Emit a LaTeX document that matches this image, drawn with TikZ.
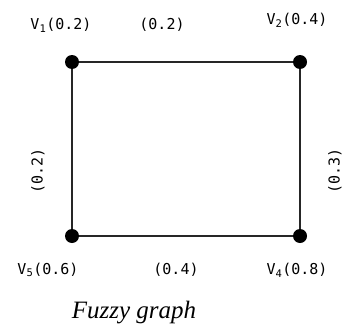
\documentclass[tikz,border=0pt]{standalone}
\usepackage{fontspec}
\setmainfont{Liberation Serif}
\newfontfamily\labfont{DejaVu Sans Mono}
\usetikzlibrary{positioning}
\tikzset{
  vtx/.style={
    circle, fill=black, draw=none,
    minimum size=14pt, inner sep=0pt
  },
  lab/.style={font=\fontsize{15}{17}\selectfont\labfont, inner sep=0pt},
  edg/.style={line width=1.3pt, draw=black!85},
  captext/.style={font=\fontsize{25}{28}\selectfont\itshape, inner sep=0pt},
}

\begin{document}
\begin{tikzpicture}[x=1pt, y=1pt]
\useasboundingbox (0,0) rectangle (342,-329);

%% ── Vertices ────────────────────────────────────────────────────────────────
\node[vtx] (v1) at ( 72, -62) {};
\node[vtx] (v2) at (300, -62) {};
\node[vtx] (v4) at (300,-236) {};
\node[vtx] (v5) at ( 72,-236) {};

%% ── Edges ───────────────────────────────────────────────────────────────────
\draw[edg] (v1) -- (v2);
\draw[edg] (v2) -- (v4);
\draw[edg] (v4) -- (v5);
\draw[edg] (v5) -- (v1);

%% ── Vertex labels ───────────────────────────────────────────────────────────
\node[lab] (l1) at ( 61, -25) {V\textsubscript{1}(0.2)};
\node[lab] (l2) at (297, -20) {V\textsubscript{2}(0.4)};
\node[lab] (l5) at ( 48,-270) {V\textsubscript{5}(0.6)};
\node[lab] (l4) at (297,-270) {V\textsubscript{4}(0.8)};

%% ── Edge labels ─────────────────────────────────────────────────────────────
\node[lab] (e12) at (162, -25) {(0.2)};
\node[lab] (e54) at (176,-270) {(0.4)};
\node[lab, rotate=90] (e15) at ( 38,-171) {(0.2)};
\node[lab, rotate=90] (e24) at (335,-171) {(0.3)};

%% ── Caption ─────────────────────────────────────────────────────────────────
\node[captext] (fzcap) at (134,-313) {Fuzzy graph};

\end{tikzpicture}
\end{document}
